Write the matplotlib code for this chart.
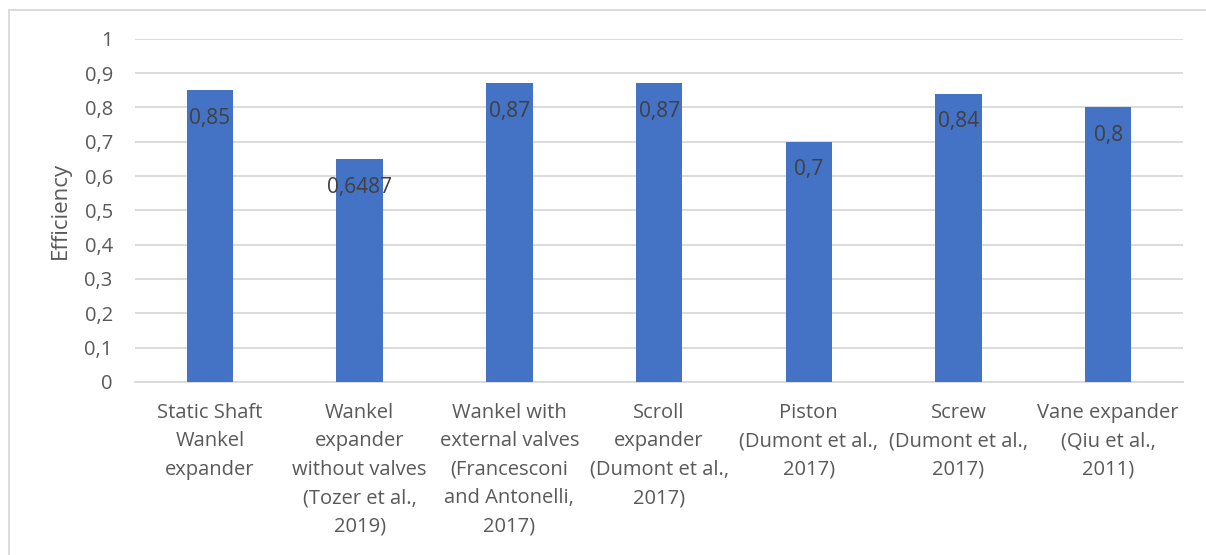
import matplotlib.pyplot as plt
from matplotlib.lines import Line2D

categories = [
    "Static Shaft\nWankel\nexpander",
    "Wankel\nexpander\nwithout valves\n(Tozer et al.,\n2019)",
    "Wankel with\nexternal valves\n(Francesconi\nand Antonelli,\n2017)",
    "Scroll\nexpander\n(Dumont et al.,\n2017)",
    "Piston\n(Dumont et al.,\n2017)",
    "Screw\n(Dumont et al.,\n2017)",
    "Vane expander\n(Qiu et al.,\n2011)",
]
efficiency = [0.85, 0.6487, 0.87, 0.87, 0.7, 0.84, 0.8]
value_labels = ["0,85", "0,6487", "0,87", "0,87", "0,7", "0,84", "0,8"]
y_ticks = [0, 0.1, 0.2, 0.3, 0.4, 0.5, 0.6, 0.7, 0.8, 0.9, 1]
y_tick_labels = ["0", "0,1", "0,2", "0,3", "0,4", "0,5", "0,6", "0,7", "0,8", "0,9", "1"]

BLUE = "#4472C4"
TEXT = "#595959"
GRID = "#D9D9D9"

plt.rcParams["font.family"] = ["Open Sans", "DejaVu Sans"]

fig = plt.figure(figsize=(12.06, 5.55), dpi=100)
ax = fig.add_axes([0.112, 0.312, 0.869, 0.618])

x = list(range(len(categories)))
bars = ax.bar(x, efficiency, width=0.31, color=BLUE, zorder=3)

for bar, text in zip(bars, value_labels):
    ax.annotate(text, (bar.get_x() + bar.get_width() / 2, bar.get_height()),
                xytext=(0, -20), textcoords="offset points",
                ha="center", va="center", fontsize=15, color="#404040", zorder=4)

ax.set_xlim(-0.5, len(categories) - 0.5)
ax.set_ylim(0, 1)
ax.set_yticks(y_ticks)
ax.set_yticklabels(y_tick_labels, fontsize=14.5, color=TEXT)
ax.set_xticks(x)
ax.set_xticklabels(categories, fontsize=14.5, color=TEXT, linespacing=1.57, va="top")
ax.tick_params(axis="both", length=0)
ax.tick_params(axis="x", pad=15)
ax.tick_params(axis="y", pad=16)

ax.yaxis.grid(True, color=GRID, linewidth=1.3, zorder=0)
for side in ["top", "right", "left"]:
    ax.spines[side].set_visible(False)
ax.spines["bottom"].set_color(GRID)
ax.spines["bottom"].set_linewidth(1.3)

ax.set_ylabel("Efficiency", fontsize=16, color=TEXT, labelpad=10)

# light frame along the left and top of the chart area
x0, y0 = 8.5 / 1206, 1 - 9.5 / 555
fig.add_artist(Line2D([x0, x0], [0, y0], transform=fig.transFigure, color=GRID, linewidth=1.3))
fig.add_artist(Line2D([x0, 1], [y0, y0], transform=fig.transFigure, color=GRID, linewidth=1.3))

fig.savefig("out.png", dpi=100)
